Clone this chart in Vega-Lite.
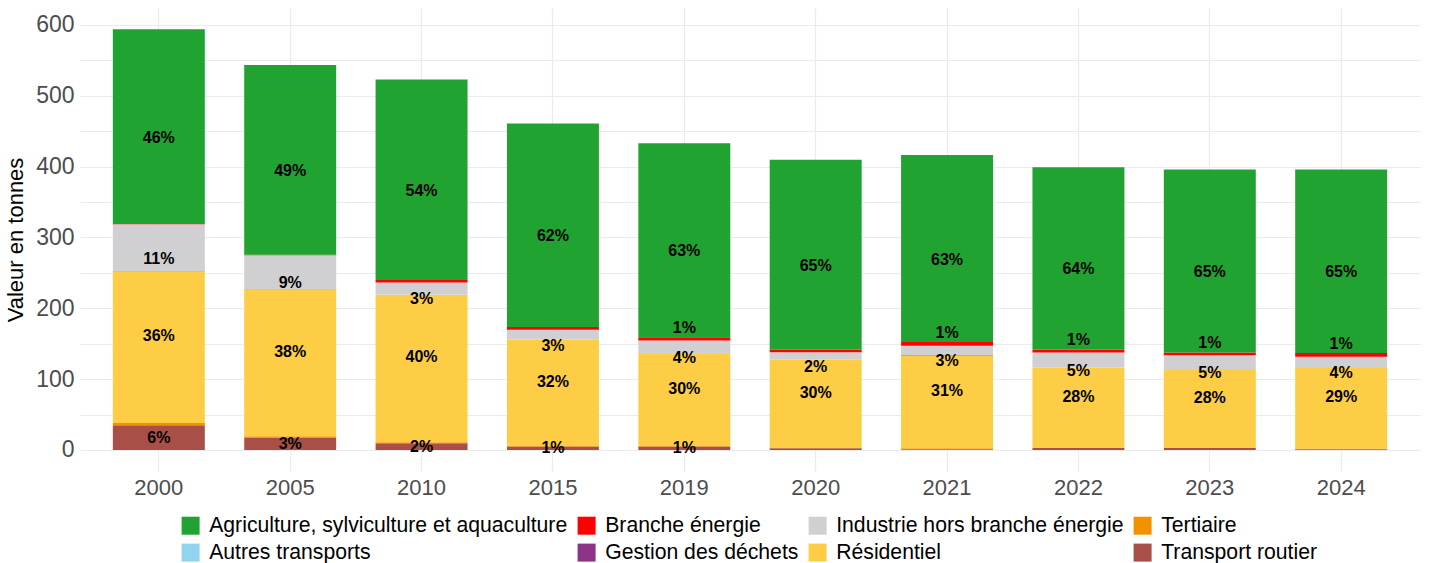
{
  "$schema": "https://vega.github.io/schema/vega-lite/v6.json",
  "width": 1340,
  "height": 463,
  "autosize": {"type": "none"},
  "padding": {"left": 80, "top": 8, "right": 14, "bottom": 92},
  "background": "white",
  "config": {
    "font": "Liberation Sans",
    "view": {"stroke": null},
    "axis": {"domain": false, "ticks": false, "gridColor": "#ebebeb", "gridWidth": 1.2, "labelFont": "Liberation Sans", "titleFont": "Liberation Sans"}
  },
  "data": {
    "values": [
      {"annee": "2000", "secteur": "Transport routier", "valeur": 35},
      {"annee": "2000", "secteur": "Tertiaire", "valeur": 3},
      {"annee": "2000", "secteur": "Résidentiel", "valeur": 214},
      {"annee": "2000", "secteur": "Gestion des déchets", "valeur": 0.3},
      {"annee": "2000", "secteur": "Autres transports", "valeur": 0.2},
      {"annee": "2000", "secteur": "Industrie hors branche énergie", "valeur": 66},
      {"annee": "2000", "secteur": "Branche énergie", "valeur": 0.3},
      {"annee": "2000", "secteur": "Agriculture, sylviculture et aquaculture", "valeur": 275},
      {"annee": "2005", "secteur": "Transport routier", "valeur": 17.7},
      {"annee": "2005", "secteur": "Tertiaire", "valeur": 1.8},
      {"annee": "2005", "secteur": "Résidentiel", "valeur": 207},
      {"annee": "2005", "secteur": "Gestion des déchets", "valeur": 0.2},
      {"annee": "2005", "secteur": "Autres transports", "valeur": 0.2},
      {"annee": "2005", "secteur": "Industrie hors branche énergie", "valeur": 48},
      {"annee": "2005", "secteur": "Branche énergie", "valeur": 0.5},
      {"annee": "2005", "secteur": "Agriculture, sylviculture et aquaculture", "valeur": 268},
      {"annee": "2010", "secteur": "Transport routier", "valeur": 9.5},
      {"annee": "2010", "secteur": "Tertiaire", "valeur": 1.5},
      {"annee": "2010", "secteur": "Résidentiel", "valeur": 208},
      {"annee": "2010", "secteur": "Gestion des déchets", "valeur": 0.2},
      {"annee": "2010", "secteur": "Autres transports", "valeur": 0.2},
      {"annee": "2010", "secteur": "Industrie hors branche énergie", "valeur": 17},
      {"annee": "2010", "secteur": "Branche énergie", "valeur": 3.5},
      {"annee": "2010", "secteur": "Agriculture, sylviculture et aquaculture", "valeur": 283},
      {"annee": "2015", "secteur": "Transport routier", "valeur": 5},
      {"annee": "2015", "secteur": "Tertiaire", "valeur": 1.4},
      {"annee": "2015", "secteur": "Résidentiel", "valeur": 149},
      {"annee": "2015", "secteur": "Gestion des déchets", "valeur": 0.2},
      {"annee": "2015", "secteur": "Autres transports", "valeur": 0.2},
      {"annee": "2015", "secteur": "Industrie hors branche énergie", "valeur": 14},
      {"annee": "2015", "secteur": "Branche énergie", "valeur": 3.8},
      {"annee": "2015", "secteur": "Agriculture, sylviculture et aquaculture", "valeur": 287},
      {"annee": "2019", "secteur": "Transport routier", "valeur": 5},
      {"annee": "2019", "secteur": "Tertiaire", "valeur": 0.5},
      {"annee": "2019", "secteur": "Résidentiel", "valeur": 130},
      {"annee": "2019", "secteur": "Gestion des déchets", "valeur": 0.2},
      {"annee": "2019", "secteur": "Autres transports", "valeur": 0.2},
      {"annee": "2019", "secteur": "Industrie hors branche énergie", "valeur": 18.5},
      {"annee": "2019", "secteur": "Branche énergie", "valeur": 4.5},
      {"annee": "2019", "secteur": "Agriculture, sylviculture et aquaculture", "valeur": 274},
      {"annee": "2020", "secteur": "Transport routier", "valeur": 2.5},
      {"annee": "2020", "secteur": "Tertiaire", "valeur": 1},
      {"annee": "2020", "secteur": "Résidentiel", "valeur": 124},
      {"annee": "2020", "secteur": "Gestion des déchets", "valeur": 0.2},
      {"annee": "2020", "secteur": "Autres transports", "valeur": 0.2},
      {"annee": "2020", "secteur": "Industrie hors branche énergie", "valeur": 10},
      {"annee": "2020", "secteur": "Branche énergie", "valeur": 3.6},
      {"annee": "2020", "secteur": "Agriculture, sylviculture et aquaculture", "valeur": 268},
      {"annee": "2021", "secteur": "Transport routier", "valeur": 1},
      {"annee": "2021", "secteur": "Tertiaire", "valeur": 1.5},
      {"annee": "2021", "secteur": "Résidentiel", "valeur": 130.5},
      {"annee": "2021", "secteur": "Gestion des déchets", "valeur": 0.5},
      {"annee": "2021", "secteur": "Autres transports", "valeur": 0.2},
      {"annee": "2021", "secteur": "Industrie hors branche énergie", "valeur": 13.5},
      {"annee": "2021", "secteur": "Branche énergie", "valeur": 5},
      {"annee": "2021", "secteur": "Agriculture, sylviculture et aquaculture", "valeur": 264},
      {"annee": "2022", "secteur": "Transport routier", "valeur": 3},
      {"annee": "2022", "secteur": "Tertiaire", "valeur": 0.3},
      {"annee": "2022", "secteur": "Résidentiel", "valeur": 112.6},
      {"annee": "2022", "secteur": "Gestion des déchets", "valeur": 0.2},
      {"annee": "2022", "secteur": "Autres transports", "valeur": 0.2},
      {"annee": "2022", "secteur": "Industrie hors branche énergie", "valeur": 21.4},
      {"annee": "2022", "secteur": "Branche énergie", "valeur": 4.2},
      {"annee": "2022", "secteur": "Agriculture, sylviculture et aquaculture", "valeur": 257},
      {"annee": "2023", "secteur": "Transport routier", "valeur": 3},
      {"annee": "2023", "secteur": "Tertiaire", "valeur": 0.3},
      {"annee": "2023", "secteur": "Résidentiel", "valeur": 110},
      {"annee": "2023", "secteur": "Gestion des déchets", "valeur": 0.2},
      {"annee": "2023", "secteur": "Autres transports", "valeur": 0.2},
      {"annee": "2023", "secteur": "Industrie hors branche énergie", "valeur": 19.8},
      {"annee": "2023", "secteur": "Branche énergie", "valeur": 4.2},
      {"annee": "2023", "secteur": "Agriculture, sylviculture et aquaculture", "valeur": 258},
      {"annee": "2024", "secteur": "Transport routier", "valeur": 1},
      {"annee": "2024", "secteur": "Tertiaire", "valeur": 1},
      {"annee": "2024", "secteur": "Résidentiel", "valeur": 114},
      {"annee": "2024", "secteur": "Gestion des déchets", "valeur": 0.2},
      {"annee": "2024", "secteur": "Autres transports", "valeur": 0.2},
      {"annee": "2024", "secteur": "Industrie hors branche énergie", "valeur": 15},
      {"annee": "2024", "secteur": "Branche énergie", "valeur": 5.5},
      {"annee": "2024", "secteur": "Agriculture, sylviculture et aquaculture", "valeur": 259}
    ]
  },
  "transform": [
    {"calculate": "indexof(['Transport routier','Tertiaire','Résidentiel','Gestion des déchets','Autres transports','Industrie hors branche énergie','Branche énergie','Agriculture, sylviculture et aquaculture'], datum.secteur)", "as": "rang"},
    {"stack": "valeur", "groupby": ["annee"], "sort": [{"field": "rang", "order": "ascending"}], "as": ["y0", "y1"]},
    {"joinaggregate": [{"op": "sum", "field": "valeur", "as": "total"}], "groupby": ["annee"]},
    {"calculate": "(datum.y0 + datum.y1) / 2", "as": "ymid"},
    {"calculate": "datum.valeur / datum.total", "as": "part"}
  ],
  "encoding": {
    "x": {
      "field": "annee", "type": "nominal", "title": null,
      "scale": {"paddingInner": 0.3, "paddingOuter": 0.25},
      "axis": {"labelAngle": 0, "labelFontSize": 22, "labelColor": "#4d4d4d", "labelPadding": 6, "grid": true, "bandPosition": 0.5}
    },
    "y": {
      "field": "y0", "type": "quantitative", "title": "Valeur en tonnes",
      "scale": {"domain": [-29.7, 623.7], "nice": false, "zero": false},
      "axis": {
        "values": [0, 50, 100, 150, 200, 250, 300, 350, 400, 450, 500, 550, 600],
        "labelExpr": "datum.value % 100 == 0 ? datum.label : ''",
        "labelFontSize": 23, "labelColor": "#4d4d4d", "labelPadding": 6,
        "titleFontSize": 22, "titleFontWeight": "normal", "titleColor": "black", "titlePadding": 8
      }
    }
  },
  "layer": [
    {
      "mark": {"type": "bar"},
      "encoding": {
        "y2": {"field": "y1"},
        "color": {
          "field": "secteur", "type": "nominal",
          "scale": {
            "domain": ["Agriculture, sylviculture et aquaculture", "Autres transports", "Branche énergie", "Gestion des déchets", "Industrie hors branche énergie", "Résidentiel", "Tertiaire", "Transport routier"],
            "range": ["#21A331", "#92D4F0", "#FF0000", "#8E3388", "#D0D0D2", "#FDCD45", "#F39200", "#A84F47"]
          },
          "legend": {
            "title": null, "orient": "none", "legendX": 100, "legendY": 507,
            "columns": 4, "columnPadding": 8, "rowPadding": 5,
            "symbolType": "square", "symbolSize": 324, "symbolStrokeWidth": 0, "symbolOpacity": 1,
            "labelFontSize": 21.2, "labelColor": "black", "labelOffset": 8, "labelLimit": 500
          }
        }
      }
    },
    {
      "transform": [{"filter": "datum.part >= 0.01 && (datum.secteur == 'Agriculture, sylviculture et aquaculture' || datum.secteur == 'Industrie hors branche énergie')"}],
      "mark": {"type": "text", "fontSize": 16, "fontWeight": "bold", "color": "black", "baseline": "middle", "dy": 11},
      "encoding": {
        "y": {"field": "ymid", "type": "quantitative"},
        "text": {"field": "part", "type": "quantitative", "format": ".0%"}
      }
    },
    {
      "transform": [{"filter": "datum.part >= 0.01 && (datum.secteur == 'Branche énergie' || datum.secteur == 'Résidentiel')"}],
      "mark": {"type": "text", "fontSize": 16, "fontWeight": "bold", "color": "black", "baseline": "middle", "dy": -11},
      "encoding": {
        "y": {"field": "ymid", "type": "quantitative"},
        "text": {"field": "part", "type": "quantitative", "format": ".0%"}
      }
    },
    {
      "transform": [{"filter": "datum.part >= 0.01 && datum.secteur == 'Transport routier'"}],
      "mark": {"type": "text", "fontSize": 16, "fontWeight": "bold", "color": "black", "baseline": "middle"},
      "encoding": {
        "y": {"field": "ymid", "type": "quantitative"},
        "text": {"field": "part", "type": "quantitative", "format": ".0%"}
      }
    }
  ]
}
